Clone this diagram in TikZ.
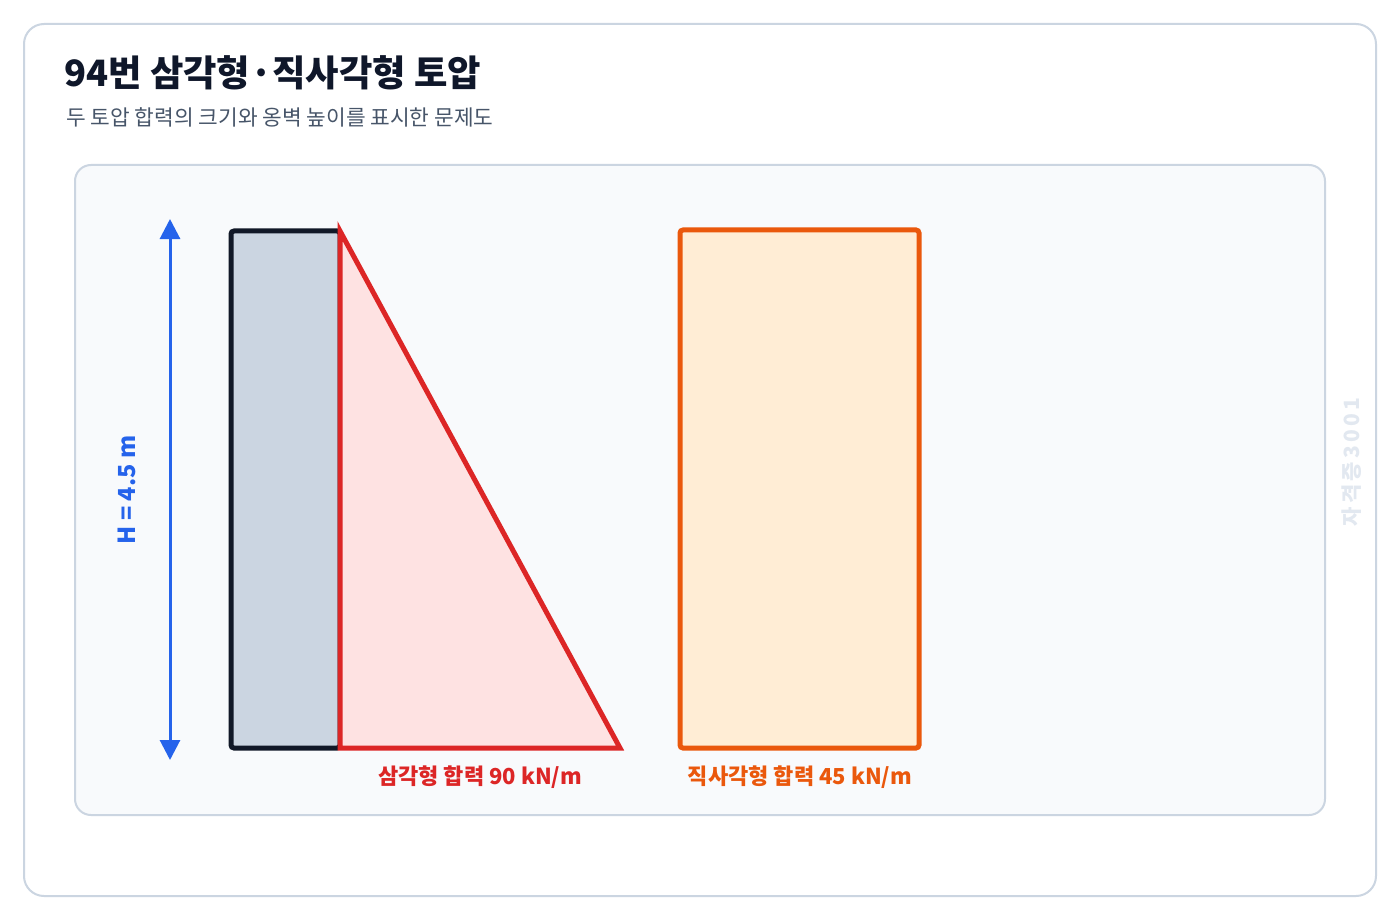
\documentclass[tikz,border=0pt]{standalone}
\usepackage{fontspec}
\setmainfont{Noto Sans CJK KR}
\usetikzlibrary{arrows.meta}
\definecolor{cardline}{HTML}{CBD5E1}
\definecolor{panelbg}{HTML}{F8FAFC}
\definecolor{titlec}{HTML}{0F172A}
\definecolor{subc}{HTML}{475569}
\definecolor{bluec}{HTML}{2563EB}
\definecolor{wallfill}{HTML}{CBD5E1}
\definecolor{wallline}{HTML}{111827}
\definecolor{redc}{HTML}{DC2626}
\definecolor{redfill}{HTML}{FEE2E2}
\definecolor{orangec}{HTML}{EA580C}
\definecolor{orangefill}{HTML}{FFEDD5}
\definecolor{wmark}{HTML}{E2E8F0}
\tikzset{
  card/.style={draw=cardline, line width=2pt, fill=white, rounded corners=20pt},
  panel/.style={draw=cardline, line width=2pt, fill=panelbg, rounded corners=16pt},
  dimarrow/.style={draw=bluec, line width=3pt, {Triangle[width=20pt,length=20pt]}-{Triangle[width=20pt,length=20pt]}},
  lbl/.style={inner sep=0pt, font=\fontsize{22}{25}\selectfont\bfseries},
}
\begin{document}
\begin{tikzpicture}[x=1pt,y=-1pt]
\useasboundingbox (0,0) rectangle (1400,920);
\fill[white] (0,0) rectangle (1400,920);
\path[card] (24,24) rectangle (1376,896);
\node[anchor=base west, inner sep=0pt, text=titlec, font=\fontsize{36.3}{40}\selectfont\bfseries] (title) at (64,87) {94번 삼각형·직사각형 토압};
\node[anchor=base west, inner sep=0pt, text=subc, font=\fontsize{21.4}{24}\selectfont] (sub) at (66,126) {두 토압 합력의 크기와 옹벽 높이를 표시한 문제도};
\path[panel] (75,165) rectangle (1325,815);
% dimension
\coordinate (dtop) at (170,219);
\coordinate (dbot) at (170,760);
\draw[dimarrow] (dtop) -- (dbot);
\node[lbl, text=bluec, rotate=90, font=\fontsize{23.5}{26}\selectfont\bfseries] (hlab) at (127,490) {H = 4.5 m};
% wall
\draw[draw=wallline, fill=wallfill, line width=5pt, rounded corners=3pt] (231,231) rectangle (340,748);
% triangle
\draw[draw=redc, fill=redfill, line width=5pt, line join=miter] (340,231) coordinate (ta) -- (340,748) coordinate (tb) -- (620,748) coordinate (tc) -- cycle;
% rectangle
\draw[draw=orangec, fill=orangefill, line width=5pt, rounded corners=3pt] (680,230) rectangle (919,748);
\node[lbl, text=redc] (tlab) at (480,777) {삼각형 합력 90 kN/m};
\node[lbl, text=orangec] (rlab) at (800,777) {직사각형 합력 45 kN/m};
\node[inner sep=0pt, text=wmark, rotate=90, font=\fontsize{21}{24}\selectfont\bfseries\addfontfeature{LetterSpace=15}] (wm) at (1352,462) {자격증3001};
\end{tikzpicture}
\end{document}
